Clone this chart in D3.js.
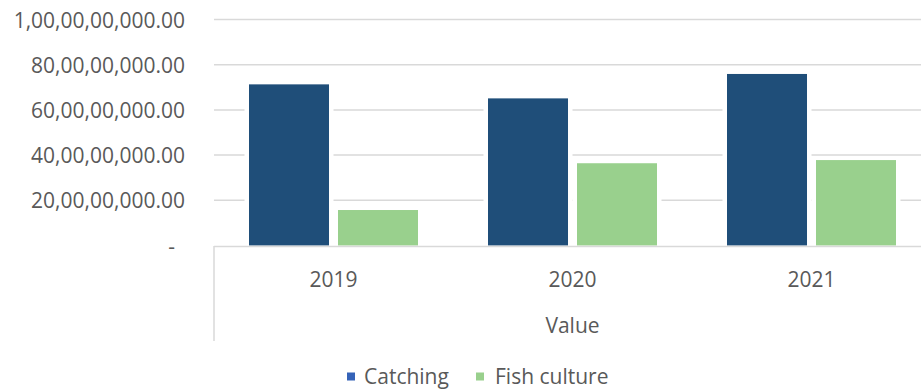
<!DOCTYPE html>
<html>
<head>
<meta charset="utf-8">
<script src="https://cdn.jsdelivr.net/npm/d3@7/dist/d3.min.js"></script>
<style>
  html, body { margin: 0; padding: 0; background: #ffffff; }
  svg { display: block; }
  text { font-family: "Open Sans", sans-serif; fill: #595959; }
</style>
</head>
<body>
<svg id="chart" width="921" height="389"></svg>
<script>
const years = ["2019", "2020", "2021"];
const seriesNames = ["Catching", "Fish culture"];
const catching = [713000000, 651000000, 759000000];
const fishCulture = [157000000, 364000000, 378000000];
const tickValues = [0, 200000000, 400000000, 600000000, 800000000, 1000000000];
const tickLabels = ["-", "20,00,00,000.00", "40,00,00,000.00", "60,00,00,000.00", "80,00,00,000.00", "1,00,00,00,000.00"];
const axisTitle = "Value";

const barColors = ["#1f4e79", "#99d08d"];
const legendColors = ["#3563b8", "#99d08d"];

const svg = d3.select("#chart");
const W = 921, H = 389;
const left = 214, plotRight = 931;
const y0 = 245.5, yTop = 19.5;

const y = d3.scaleLinear().domain([0, 1000000000]).range([y0, yTop]);
const x0 = d3.scaleBand().domain(years).range([left, plotRight]).paddingInner(0).paddingOuter(0);
const x1 = d3.scaleBand().domain(seriesNames).range([35, x0.bandwidth() - 35]).paddingInner(0.101).paddingOuter(0);

// gridlines
svg.append("g").selectAll("line")
  .data(tickValues.filter(d => d > 0))
  .join("line")
  .attr("x1", left).attr("x2", W)
  .attr("y1", d => y(d)).attr("y2", d => y(d))
  .attr("stroke", "#d9d9d9").attr("stroke-width", 1.5);

// y axis labels
const yAxis = d3.axisLeft(y).tickValues(tickValues)
  .tickFormat((d, i) => tickLabels[i]).tickSize(0).tickPadding(0);
const gy = svg.append("g").attr("transform", `translate(185,0)`).call(yAxis);
gy.select(".domain").remove();
gy.selectAll("text").style("font-size", "21px").attr("fill", "#595959")
  .style("font-family", "'Open Sans', sans-serif")
  .attr("dy", "0.36em")
  .attr("x", (d) => d === 0 ? -10 : 0);

// bars
const data = years.map((yr, i) => ({ year: yr, values: [catching[i], fishCulture[i]] }));
const groups = svg.append("g").selectAll("g")
  .data(data).join("g")
  .attr("transform", d => `translate(${x0(d.year)},0)`);
const barData = d => d.values.map((v, j) => ({ name: seriesNames[j], value: v, j }));
// white halo behind bars (gridlines break around the bars)
groups.selectAll("rect.halo")
  .data(barData)
  .join("rect").attr("class", "halo")
  .attr("x", d => x1(d.name) - 4.5)
  .attr("width", x1.bandwidth() + 9)
  .attr("y", d => y(d.value) - 3)
  .attr("height", d => y(0) - y(d.value) + 3)
  .attr("fill", "#ffffff");
groups.selectAll("rect.bar")
  .data(barData)
  .join("rect").attr("class", "bar")
  .attr("x", d => x1(d.name))
  .attr("width", x1.bandwidth())
  .attr("y", d => y(d.value))
  .attr("height", d => y(0) - y(d.value))
  .attr("fill", d => barColors[d.j]);

// category axis box
svg.append("line").attr("x1", left).attr("x2", W).attr("y1", 246.5).attr("y2", 246.5)
  .attr("stroke", "#d9d9d9").attr("stroke-width", 1.5);
svg.append("line").attr("x1", left).attr("x2", left).attr("y1", 246).attr("y2", 341)
  .attr("stroke", "#d9d9d9").attr("stroke-width", 1.5);

// x axis labels
const xAxis = d3.axisBottom(x0).tickSize(0).tickPadding(0);
const gx = svg.append("g").attr("transform", `translate(0,286.5)`).call(xAxis);
gx.select(".domain").remove();
gx.selectAll("text").style("font-size", "21px").attr("fill", "#595959")
  .style("font-family", "'Open Sans', sans-serif").attr("dy", "0");

svg.append("text").attr("x", x0("2020") + x0.bandwidth() / 2).attr("y", 333)
  .attr("text-anchor", "middle").style("font-size", "21px").text(axisTitle);

// legend
const legendPos = [{ sx: 347, tx: 364 }, { sx: 476, tx: 495 }];
const lg = svg.append("g");
seriesNames.forEach((name, i) => {
  lg.append("rect").attr("x", legendPos[i].sx).attr("y", 372.5).attr("width", 8).attr("height", 8)
    .attr("fill", legendColors[i]);
  lg.append("text").attr("x", legendPos[i].tx).attr("y", 384).style("font-size", "21px").text(name);
});
</script>
</body>
</html>
